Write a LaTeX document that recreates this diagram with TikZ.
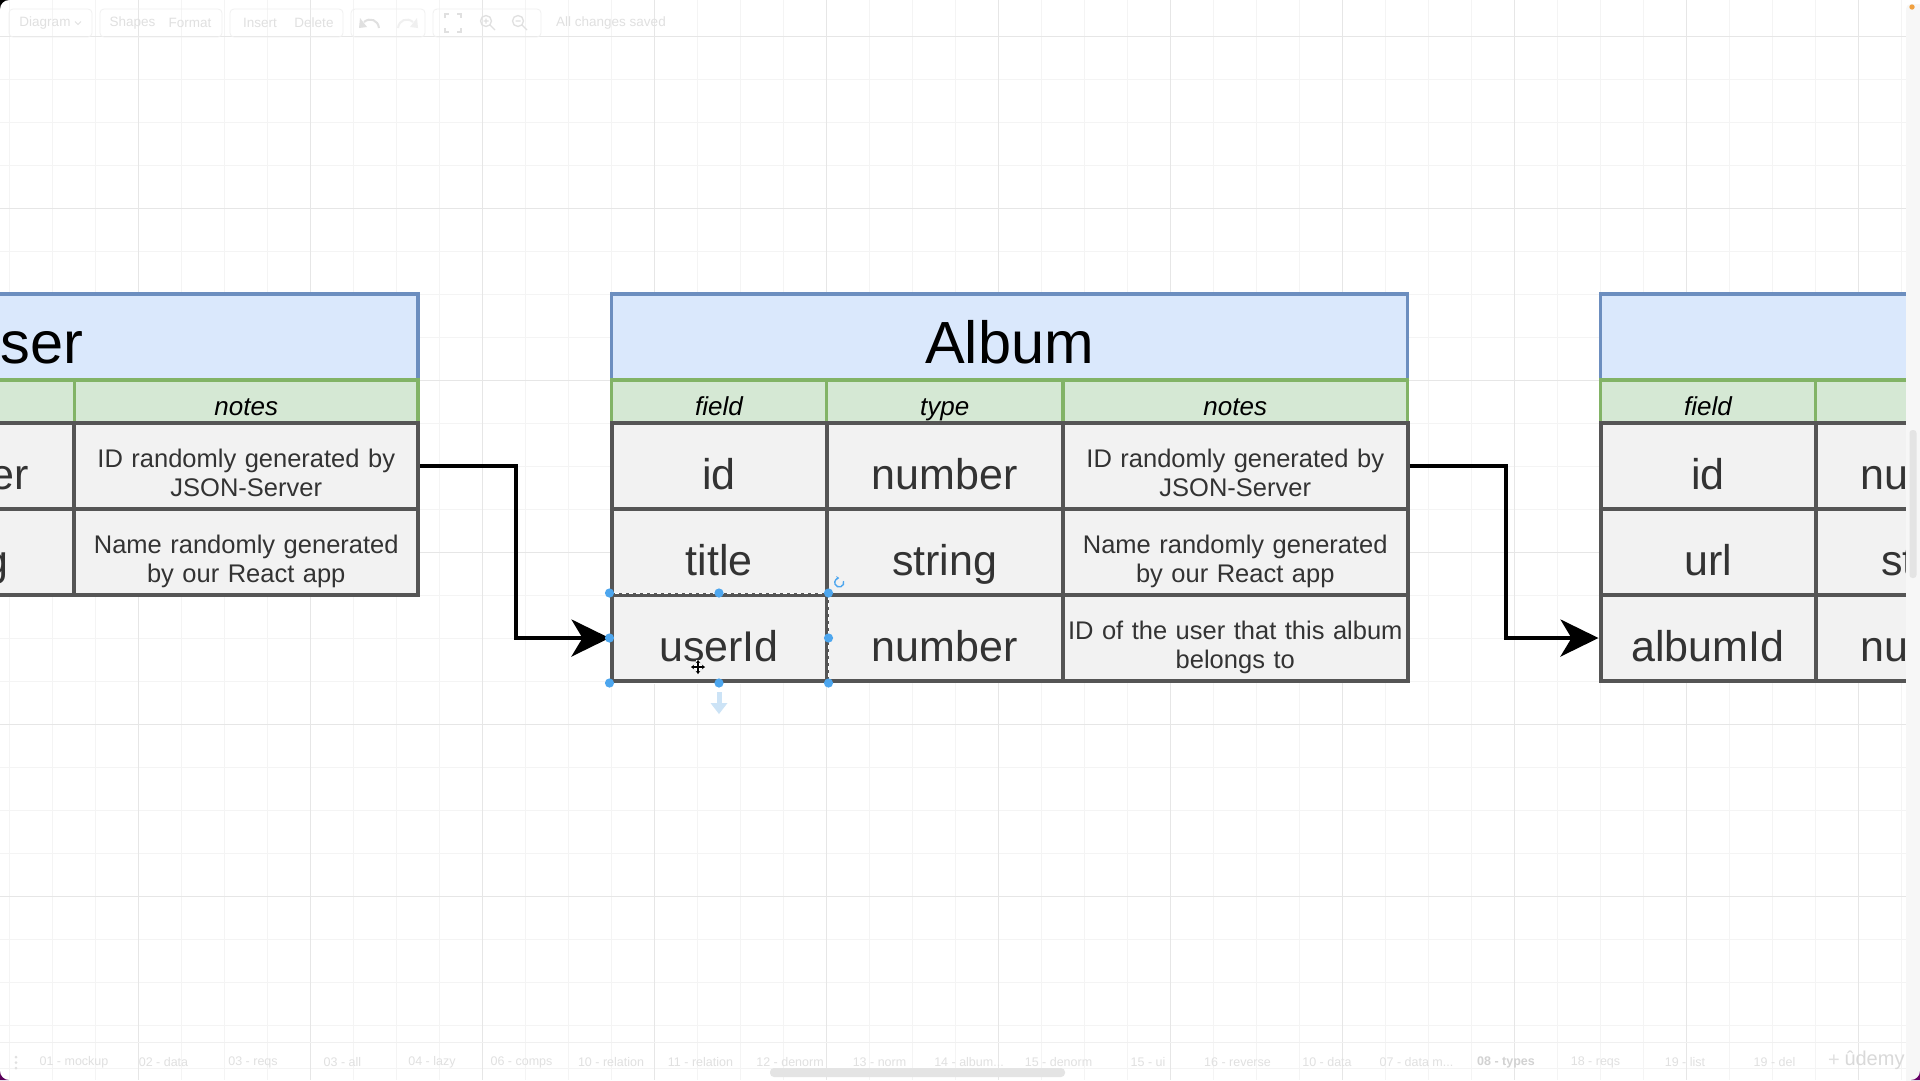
\documentclass[tikz,border=0pt]{standalone}
\usepackage{fontspec}
\setmainfont{Liberation Sans}
\usetikzlibrary{arrows.meta}
\definecolor{hdrfill}{HTML}{DAE8FC}
\definecolor{hdrline}{HTML}{6C8EBF}
\definecolor{grnfill}{HTML}{D5E8D4}
\definecolor{grnline}{HTML}{82B366}
\definecolor{cellfill}{HTML}{F2F2F2}
\definecolor{cellline}{HTML}{555555}
\definecolor{celltext}{HTML}{333333}
\definecolor{gridminor}{HTML}{F4F4F4}
\definecolor{gridmajor}{HTML}{E6E6E6}
\definecolor{faint}{HTML}{E0E0E0}
\definecolor{faintline}{HTML}{F0F0F0}
\definecolor{handleblue}{HTML}{4DA6EE}
\definecolor{hintblue}{HTML}{CCE3F6}
\definecolor{stripgray}{HTML}{F7F7F7}
\definecolor{scrollgray}{HTML}{E4E4E4}
\definecolor{dotorange}{HTML}{F0A040}
\tikzset{
  hdr/.style={draw=hdrline, fill=hdrfill, line width=3.5pt, minimum height=86pt, inner sep=0pt,
    font=\fontsize{59.5}{64}\selectfont, text height=53pt, text depth=0pt},
  colh/.style={draw=grnline, fill=grnfill, line width=3.5pt, minimum height=43pt, inner sep=0pt,
    font=\itshape\fontsize{26}{30}\selectfont, text height=28pt, text depth=0pt},
  val/.style={draw=cellline, fill=cellfill, line width=4pt, minimum height=86pt, inner sep=0pt,
    text=celltext, font=\fontsize{43}{48}\selectfont, text height=46.6pt, text depth=0pt},
  note/.style={val, font=\fontsize{25.5}{29.5}\selectfont, text width=344pt, align=center,
    text height=20pt, text depth=18pt},
  conn/.style={draw=black, line width=4pt, -{Stealth[length=38pt, width=37pt, inset=11pt]}},
  tb/.style={text=faint, font=\fontsize{13.5}{15}\selectfont, inner sep=0pt},
  tab/.style={text=faint, font=\fontsize{12.5}{14}\selectfont, inner sep=0pt},
  tbbox/.style={draw=faintline, line width=0.8pt, rounded corners=4pt},
  icon/.style={draw=faint, line width=1.3pt},
}
\begin{document}
\begin{tikzpicture}[x=1pt,y=-1pt]
\useasboundingbox (0,0) rectangle (1920,1080);
\begin{scope}
\clip (0,0) rectangle (1920,1080);
\fill[white] (0,0) rectangle (1920,1080);
% grid
\foreach \k in {-3,...,41} {
  \pgfmathsetmacro\xx{138.5+43*\k}
  \draw[gridminor, line width=1pt] (\xx,0) -- (\xx,1080);
}
\foreach \k in {-4,...,20} {
  \pgfmathsetmacro\yy{208+43*\k}
  \draw[gridminor, line width=1pt] (0,\yy) -- (1920,\yy);
}
\foreach \k in {0,...,10} {
  \pgfmathsetmacro\xx{138.5+172*\k}
  \draw[gridmajor, line width=1pt] (\xx,0) -- (\xx,1080);
}
\foreach \k in {-1,...,4} {
  \pgfmathsetmacro\yy{208+172*\k}
  \draw[gridmajor, line width=1pt] (0,\yy) -- (1920,\yy);
}

% toolbar
\draw[tbbox] (9,9) rectangle (92,37);
\draw[tbbox] (100,9) rectangle (222,37);
\draw[tbbox] (230,9) rectangle (343,37);
\draw[tbbox] (351,9) rectangle (425,37);
\draw[tbbox] (433,9) rectangle (541,37);
\node[tb] (tb-diagram) at (45,23) {Diagram};
\draw[icon, line width=0.9pt] (75,21.5) -- (78,24.5) -- (81,21.5);
\node[tb] (tb-shapes) at (132.5,23) {Shapes};
\node[tb] (tb-format) at (190,23) {Format};
\node[tb] (tb-insert) at (260,23) {Insert};
\node[tb] (tb-delete) at (314,23) {Delete};
\node[tb] (tb-saved) at (611,23) {All changes saved};
% undo / redo
\draw[icon, line width=2pt] (379,28) .. controls (378,20) and (370,17) .. (364,22);
\fill[faint] (360,18) -- (367,27) -- (359,28) -- cycle;
\draw[icon, line width=2pt, draw=faintline] (398,28) .. controls (399,20) and (407,17) .. (413,22);
\fill[faintline] (417,18) -- (410,27) -- (418,28) -- cycle;
% fullscreen
\draw[icon] (445,18) -- (445,14) -- (449,14) (457,14) -- (461,14) -- (461,18)
  (461,28) -- (461,32) -- (457,32) (449,32) -- (445,32) -- (445,28);
% zoom in / out
\draw[icon] (486,21) circle[radius=5.5] (490,25) -- (495,30) (483.5,21) -- (488.5,21) (486,18.5) -- (486,23.5);
\draw[icon] (518,21) circle[radius=5.5] (522,25) -- (527,30) (515.5,21) -- (520.5,21);

% tables
\begin{scope}
\clip (0,0) rectangle (1906,1080);
% User
\node[hdr, minimum width=795pt] (u-h) at (20.5,337) {User};
\node[colh, minimum width=236.5pt] (u-c1) at (-43.75,401.5) {};
\node[colh, minimum width=343.5pt] (u-c2) at (246.25,401.5) {notes};
\node[val, minimum width=236.5pt] (u-t1) at (-43.75,466) {number};
\node[note, minimum width=343.5pt] (u-n1) at (246.25,466) {ID randomly generated by\\JSON-Server};
\node[val, minimum width=236.5pt] (u-t2) at (-43.75,552) {string};
\node[note, minimum width=343.5pt] (u-n2) at (246.25,552) {Name randomly generated\\by our React app};
% Album
\node[hdr, minimum width=796pt] (a-h) at (1009.5,337) {Album};
\node[colh, minimum width=215pt] (a-c0) at (719,401.5) {field};
\node[colh, minimum width=236.5pt] (a-c1) at (944.75,401.5) {type};
\node[colh, minimum width=344.5pt] (a-c2) at (1235.25,401.5) {notes};
\node[val, minimum width=215pt] (a-f1) at (719,466) {id};
\node[val, minimum width=236.5pt] (a-t1) at (944.75,466) {number};
\node[note, minimum width=344.5pt] (a-n1) at (1235.25,466) {ID randomly generated by\\JSON-Server};
\node[val, minimum width=215pt] (a-f2) at (719,552) {title};
\node[val, minimum width=236.5pt] (a-t2) at (944.75,552) {string};
\node[note, minimum width=344.5pt] (a-n2) at (1235.25,552) {Name randomly generated\\by our React app};
\node[val, minimum width=215pt] (a-f3) at (719,638) {userId};
\node[val, minimum width=236.5pt] (a-t3) at (944.75,638) {number};
\node[note, minimum width=344.5pt] (a-n3) at (1235.25,638) {ID of the user that this album\\belongs to};
% Photo (clipped)
\node[hdr, minimum width=796pt] (p-h) at (1998.5,337) {};
\node[colh, minimum width=215pt] (p-c0) at (1708,401.5) {field};
\node[colh, minimum width=236.5pt] (p-c1) at (1933.75,401.5) {};
\node[val, minimum width=215pt] (p-f1) at (1708,466) {id};
\node[val, minimum width=236.5pt] (p-t1) at (1933.75,466) {number};
\node[val, minimum width=215pt] (p-f2) at (1708,552) {url};
\node[val, minimum width=236.5pt] (p-t2) at (1933.75,552) {string};
\node[val, minimum width=215pt] (p-f3) at (1708,638) {albumId};
\node[val, minimum width=236.5pt] (p-t3) at (1933.75,638) {number};

% connectors
\draw[conn] (u-n1.east) -- ++(96,0) |- (a-f3.west);
\draw[conn] (a-n1.east) -- ++(96,0) |- (p-f3.west);
\end{scope}

% selection of userId cell
\draw[white, line width=1pt, dash pattern=on 4pt off 3pt] (a-f3.north west) rectangle (a-f3.south east);
\foreach \a in {north west,north,north east,west,east,south west,south,south east}
  \fill[handleblue] (a-f3.\a) circle[radius=4.6];
\draw[handleblue, line width=1.4pt, -{Stealth[length=3pt,width=4pt]}] (843.5,581) arc[start angle=-20, end angle=270, radius=4.5];
\fill[hintblue] (716.5,692) rectangle (721.5,704);
\fill[hintblue] (710.5,703) -- (727.5,703) -- (719,714) -- cycle;
\begin{scope}[shift={(698,667)}]
  \draw[white, line width=3.2pt] (-7,0) -- (7,0) (0,-7) -- (0,7);
  \draw[black, line width=1.3pt, {Stealth[length=3pt,width=4.5pt]}-{Stealth[length=3pt,width=4.5pt]}] (-7,0) -- (7,0);
  \draw[black, line width=1.3pt, {Stealth[length=3pt,width=4.5pt]}-{Stealth[length=3pt,width=4.5pt]}] (0,-7) -- (0,7);
\end{scope}

% right strip and scrollbar
\fill[stripgray, rounded corners=5pt] (1906,1090) -- (1906,4) -- (1930,4) -- (1930,1090) -- cycle;
\fill[dotorange] (1912,7) circle[radius=2.7];
\fill[scrollgray, rounded corners=3pt] (1909.5,430) rectangle (1916.5,578);

% bottom tab bar
\draw[faintline, line width=1pt] (0,1042) -- (1906,1042);
\foreach \yy in {1057,1062.5,1068} \fill[faint] (16,\yy) circle[radius=1.5];
\foreach \lab [count=\i from 0] in {01 - mockup,02 - data,03 - reqs,03 - all,04 - lazy,06 - comps,10 - relation,11 - relation,12 - denorm,13 - norm}
  \node[tab] (tab-\i) at (74+89.5*\i,1062) {\lab};
\node[tab] (tab-album) at (969,1062) {14 - album{.}{.}{.}};
\node[tab] (tab-denorm) at (1058.5,1062) {15 - denorm};
\node[tab] (tab-ui) at (1148,1062) {15 - ui};
\node[tab] (tab-reverse) at (1237.5,1062) {16 - reverse};
\node[tab] (tab-data) at (1327,1062) {10 - data};
\node[tab] (tab-datam) at (1416.5,1062) {07 - data m{.}{.}{.}};
\node[tab, text=gray!35, font=\bfseries\fontsize{12.5}{14}\selectfont] (tab-types) at (1506,1062) {08 - types};
\node[tab] (tab-reqs) at (1595.5,1062) {18 - reqs};
\node[tab] (tab-list) at (1685,1062) {19 - list};
\node[tab] (tab-del) at (1774.5,1062) {19 - del};
\node[tab, font=\fontsize{20}{20}\selectfont] (tab-plus) at (1834,1061) {+};
\fill[scrollgray, rounded corners=4pt] (770,1068) rectangle (1065,1077);
\node[text=gray!30, font=\fontsize{20}{20}\selectfont, inner sep=0pt] (udemy) at (1874.5,1060.5) {ûdemy};

% window corners
\fill[black] (0,0) -- (9,0) .. controls (4,0) and (0,4) .. (0,9) -- cycle;
\fill[violet!70!black] (0,1080) -- (0,1071) .. controls (0,1076) and (4,1080) .. (9,1080) -- cycle;
\fill[violet!80!black] (1920,1080) -- (1920,1071) .. controls (1920,1076) and (1916,1080) .. (1911,1080) -- cycle;
\end{scope}
\end{tikzpicture}
\end{document}
